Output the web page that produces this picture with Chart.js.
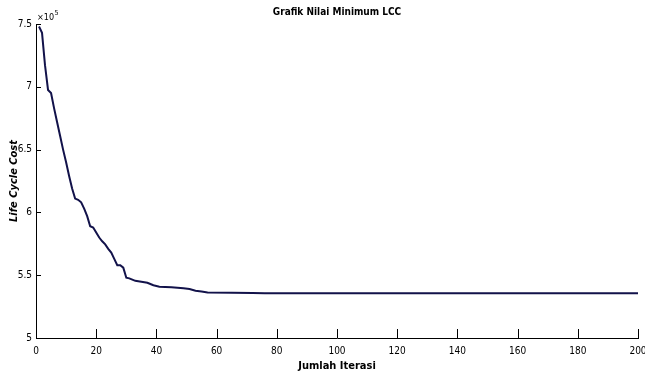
<!DOCTYPE html>
<html>
<head>
<meta charset="utf-8">
<script src="https://cdn.jsdelivr.net/npm/chart.js@4/dist/chart.umd.min.js"></script>
<style>
  html, body { margin: 0; padding: 0; background: #ffffff; }
  #wrap { width: 645px; height: 374px; position: relative; }
</style>
</head>
<body>
<div id="wrap"><canvas id="c" width="645" height="374"></canvas></div>
<script>
// ---- data ----
const iterations = [1, 2, 3, 4, 5, 6, 7, 8, 9, 10, 11, 12, 13, 14, 15, 16, 17, 18, 19, 20,
  21, 22, 23, 24, 25, 26, 27, 28, 29, 30, 31, 32, 33, 35, 37, 39, 41, 45, 49, 51,
  53, 55, 57, 65, 72, 76, 200];
const lccValues = [748000, 743000, 717000, 697500, 695000, 683000, 672000, 661000, 650000, 640000,
  629000, 619000, 611000, 610000, 608000, 603000, 597000, 589000, 588000, 584000,
  580000, 577000, 574500, 571000, 568000, 563000, 558000, 558000, 556000, 548000,
  547500, 546500, 545500, 544800, 544000, 542000, 540800, 540400, 539600, 539000,
  537700, 537000, 536200, 536000, 535900, 535700, 535700];
const xTickValues = [0, 20, 40, 60, 80, 100, 120, 140, 160, 180, 200];
const yTickValues = [500000, 550000, 600000, 650000, 700000, 750000];
const chartTitle = 'Grafik Nilai Minimum LCC';
const xTitle = 'Jumlah Iterasi';
const yTitle = 'Life Cycle Cost';

const FONT = "'DejaVu Sans Condensed', 'Liberation Sans Narrow', 'Liberation Sans', Arial, sans-serif";

const points = iterations.map((x, i) => ({ x: x, y: lccValues[i] }));

const inwardTicks = {
  id: 'inwardTicks',
  afterDraw(chart) {
    const ctx = chart.ctx;
    const xs = chart.scales.x, ys = chart.scales.y;
    const area = chart.chartArea;
    ctx.save();
    ctx.strokeStyle = '#000';
    ctx.lineWidth = 1;
    ctx.beginPath();
    xTickValues.forEach(v => {
      const px = Math.round(xs.getPixelForValue(v)) + 0.5;
      ctx.moveTo(px, area.bottom);
      ctx.lineTo(px, area.bottom - 9);
    });
    yTickValues.forEach(v => {
      const py = Math.round(ys.getPixelForValue(v)) + 0.5;
      ctx.moveTo(area.left, py);
      ctx.lineTo(area.left + 5, py);
    });
    ctx.stroke();
    // exponent label
    ctx.fillStyle = '#000';
    ctx.textBaseline = 'alphabetic';
    ctx.textAlign = 'left';
    ctx.font = '9px ' + FONT;
    ctx.fillText('\u00d710', area.left + 1, area.top - 4);
    const w = ctx.measureText('\u00d710').width;
    ctx.font = '7px ' + FONT;
    ctx.fillText('5', area.left + 1 + w + 0.5, area.top - 9);
    ctx.restore();
  }
};

new Chart(document.getElementById('c'), {
  type: 'line',
  data: {
    datasets: [{
      data: points,
      borderColor: '#12124a',
      borderWidth: 2,
      pointRadius: 0,
      tension: 0,
      fill: false
    }]
  },
  options: {
    responsive: false,
    animation: false,
    layout: { padding: { top: 0, right: 7, bottom: 0, left: 0 } },
    plugins: {
      legend: { display: false },
      tooltip: { enabled: false },
      title: {
        display: true,
        fullSize: false,
        text: chartTitle,
        color: '#000',
        font: { family: FONT, size: 10, weight: 'bold' },
        padding: { top: 6, bottom: 6 }
      }
    },
    scales: {
      x: {
        type: 'linear',
        min: 0, max: 200,
        afterBuildTicks(scale) { scale.ticks = xTickValues.map(v => ({ value: v })); },
        afterFit(scale) { scale.height = 36; scale.paddingRight = 0; },
        grid: { display: false, drawTicks: false },
        border: { display: true, color: '#000', width: 1 },
        ticks: {
          color: '#000', padding: 7, maxRotation: 0,
          font: { family: FONT, size: 10 }
        },
        title: {
          display: true, text: xTitle, color: '#000',
          font: { family: FONT, size: 11, weight: 'bold' },
          padding: { top: 0, bottom: 1 }
        }
      },
      y: {
        type: 'linear',
        min: 500000, max: 750000,
        afterBuildTicks(scale) { scale.ticks = yTickValues.map(v => ({ value: v })); },
        afterFit(scale) { scale.width = 36; },
        grid: { display: false, drawTicks: false },
        border: { display: true, color: '#000', width: 1 },
        ticks: {
          color: '#000', padding: 4,
          font: { family: FONT, size: 10 },
          callback: v => String(v / 100000)
        },
        title: {
          display: true, text: yTitle, color: '#000',
          font: { family: FONT, size: 11, weight: 'bold', style: 'italic' },
          padding: { top: 8, bottom: 0 }
        }
      }
    }
  },
  plugins: [inwardTicks]
});
</script>
</body>
</html>
